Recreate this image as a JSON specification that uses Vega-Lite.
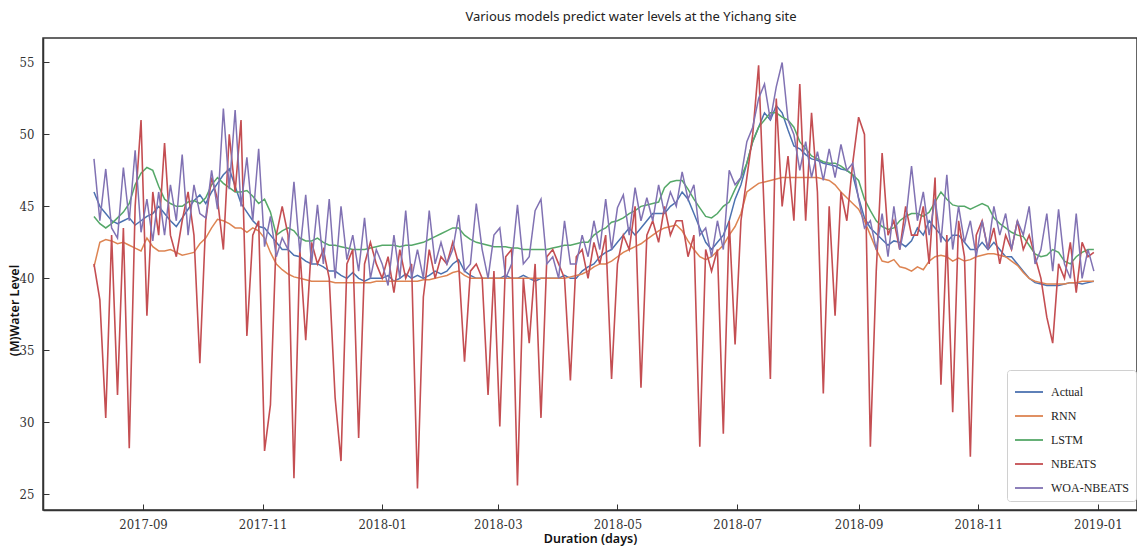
{
"$schema": "https://vega.github.io/schema/vega-lite/v6.json",
"autosize": {"type": "none"},
"width": 1094,
"height": 472,
"padding": {"left": 43, "top": 38, "right": 0, "bottom": 38},
"background": "white",
"title": {"text": "Various models predict water levels at the Yichang site", "font": "Noto Sans", "fontSize": 13, "fontWeight": "normal", "color": "#222", "offset": 14, "dx": 41, "frame": "group", "anchor": "middle"},
"config": {
 "view": {"stroke": "#333", "strokeWidth": 1.5},
 "axis": {"grid": false, "labelFont": "DejaVu Serif Condensed, Liberation Serif, serif", "labelFontSize": 13, "labelColor": "#333", "domainColor": "#333", "domainWidth": 1.5, "tickColor": "#333", "tickSize": -6, "tickWidth": 1, "labelPadding": 15, "titleFont": "Noto Sans", "titleFontSize": 12.5, "titleFontWeight": 600, "titleColor": "#111"},
 "legend": {"orient": "none", "legendX": 964, "legendY": 332, "fillColor": "white", "strokeColor": "#d0d0d0", "cornerRadius": 3, "padding": 7, "symbolType": "stroke", "symbolSize": 784, "symbolStrokeWidth": 1.8, "labelFont": "Liberation Serif, serif", "labelFontSize": 12, "labelColor": "#222", "labelOffset": 7, "rowPadding": 3}
},
"data": {"values": [
{"d":"2017-08-07","A":46,"R":40.8,"L":44.3,"N":41,"W":48.3},
{"d":"2017-08-10","A":45,"R":42.5,"L":43.8,"N":38.5,"W":44},
{"d":"2017-08-13","A":44.5,"R":42.7,"L":43.5,"N":30.3,"W":47.6},
{"d":"2017-08-16","A":44,"R":42.6,"L":43.8,"N":43,"W":43.5},
{"d":"2017-08-19","A":43.8,"R":42.4,"L":44.2,"N":31.9,"W":42.8},
{"d":"2017-08-22","A":44,"R":42.5,"L":44.6,"N":43.5,"W":47.7},
{"d":"2017-08-25","A":44.2,"R":42.3,"L":45.2,"N":28.2,"W":44},
{"d":"2017-08-28","A":43.7,"R":42.1,"L":46.5,"N":45,"W":48.9},
{"d":"2017-08-31","A":44,"R":41.9,"L":47.3,"N":51,"W":43.2},
{"d":"2017-09-03","A":44.3,"R":42.8,"L":47.7,"N":37.4,"W":45.5},
{"d":"2017-09-06","A":44.5,"R":42.2,"L":47.5,"N":46,"W":42.6},
{"d":"2017-09-09","A":45,"R":41.9,"L":46.4,"N":43,"W":46},
{"d":"2017-09-12","A":44.5,"R":41.9,"L":45.5,"N":49.4,"W":43},
{"d":"2017-09-15","A":44,"R":42,"L":45.2,"N":43,"W":46.5},
{"d":"2017-09-18","A":43.6,"R":41.8,"L":45,"N":41.5,"W":44},
{"d":"2017-09-21","A":44.2,"R":41.6,"L":45,"N":44,"W":48.6},
{"d":"2017-09-24","A":44.8,"R":41.7,"L":45.3,"N":46,"W":43},
{"d":"2017-09-27","A":45.4,"R":41.8,"L":45.4,"N":43,"W":46.5},
{"d":"2017-09-30","A":45.8,"R":42.4,"L":45.2,"N":34.1,"W":44.5},
{"d":"2017-10-03","A":45.2,"R":42.8,"L":45.6,"N":44,"W":44.2},
{"d":"2017-10-06","A":46,"R":43.5,"L":46.5,"N":47,"W":47.5},
{"d":"2017-10-09","A":46.6,"R":44.1,"L":47,"N":45.5,"W":44.8},
{"d":"2017-10-12","A":47.2,"R":44,"L":46.6,"N":42,"W":51.8},
{"d":"2017-10-15","A":47.6,"R":43.8,"L":46.3,"N":50,"W":46.2},
{"d":"2017-10-18","A":46.4,"R":43.5,"L":46,"N":46,"W":51.7},
{"d":"2017-10-21","A":45.2,"R":43.5,"L":46,"N":51,"W":45},
{"d":"2017-10-24","A":44.6,"R":43.2,"L":46.1,"N":36,"W":48.4},
{"d":"2017-10-27","A":44,"R":43.5,"L":45.7,"N":43,"W":44},
{"d":"2017-10-30","A":43.6,"R":43.3,"L":45.2,"N":44,"W":49},
{"d":"2017-11-02","A":43.5,"R":42.8,"L":45.5,"N":28,"W":42.2},
{"d":"2017-11-05","A":43,"R":41.8,"L":44.6,"N":31.2,"W":44.3},
{"d":"2017-11-08","A":42.5,"R":41,"L":43,"N":43,"W":41.5},
{"d":"2017-11-11","A":42,"R":40.6,"L":43.3,"N":45,"W":42.8},
{"d":"2017-11-14","A":42,"R":40.3,"L":43.5,"N":43,"W":42},
{"d":"2017-11-17","A":41.6,"R":40.1,"L":43.3,"N":26.1,"W":46.7},
{"d":"2017-11-20","A":41.5,"R":40,"L":42.8,"N":42,"W":41.8},
{"d":"2017-11-23","A":41.2,"R":39.9,"L":42.6,"N":35.7,"W":45.8},
{"d":"2017-11-26","A":41,"R":39.8,"L":42.6,"N":42.5,"W":41},
{"d":"2017-11-29","A":41,"R":39.8,"L":42.8,"N":41,"W":45.1},
{"d":"2017-12-02","A":40.8,"R":39.8,"L":42.5,"N":42,"W":41},
{"d":"2017-12-05","A":40.5,"R":39.8,"L":42.3,"N":40,"W":45.5},
{"d":"2017-12-08","A":40.5,"R":39.7,"L":42.3,"N":31.7,"W":40},
{"d":"2017-12-11","A":40.2,"R":39.7,"L":42.2,"N":27.3,"W":45},
{"d":"2017-12-14","A":40,"R":39.7,"L":42.1,"N":41,"W":41.3},
{"d":"2017-12-17","A":40.4,"R":39.7,"L":42,"N":42,"W":43},
{"d":"2017-12-20","A":40,"R":39.7,"L":42,"N":28.9,"W":40.5},
{"d":"2017-12-23","A":39.8,"R":39.7,"L":42,"N":41,"W":44.2},
{"d":"2017-12-26","A":40,"R":39.7,"L":42.1,"N":42.5,"W":40},
{"d":"2017-12-29","A":40,"R":39.8,"L":42.2,"N":41,"W":42},
{"d":"2018-01-01","A":40,"R":39.8,"L":42.3,"N":40,"W":41},
{"d":"2018-01-04","A":40.2,"R":39.8,"L":42.3,"N":41.5,"W":39.5},
{"d":"2018-01-07","A":39.8,"R":39.8,"L":42.3,"N":39,"W":43},
{"d":"2018-01-10","A":40,"R":39.8,"L":42.2,"N":42,"W":40},
{"d":"2018-01-13","A":40.3,"R":39.8,"L":42.3,"N":40,"W":44.7},
{"d":"2018-01-16","A":40,"R":39.8,"L":42.3,"N":41,"W":40},
{"d":"2018-01-19","A":40.2,"R":39.8,"L":42.4,"N":25.4,"W":42},
{"d":"2018-01-22","A":40,"R":39.9,"L":42.5,"N":38.7,"W":40},
{"d":"2018-01-25","A":40.2,"R":39.9,"L":42.7,"N":42,"W":44.7},
{"d":"2018-01-28","A":40.5,"R":40,"L":42.9,"N":40,"W":41},
{"d":"2018-01-31","A":40.3,"R":40.1,"L":43.1,"N":41.5,"W":42.5},
{"d":"2018-02-03","A":40.5,"R":40.2,"L":43.3,"N":41,"W":41},
{"d":"2018-02-06","A":41,"R":40.4,"L":43.5,"N":42.5,"W":42},
{"d":"2018-02-09","A":41.3,"R":40.5,"L":43.5,"N":41,"W":44.4},
{"d":"2018-02-12","A":40.5,"R":40.2,"L":43,"N":34.2,"W":40.5},
{"d":"2018-02-15","A":40.2,"R":40,"L":42.7,"N":40.5,"W":41},
{"d":"2018-02-18","A":40,"R":40,"L":42.5,"N":41,"W":45.2},
{"d":"2018-02-21","A":40,"R":40,"L":42.4,"N":40,"W":42},
{"d":"2018-02-24","A":40,"R":40,"L":42.3,"N":31.9,"W":40},
{"d":"2018-02-27","A":40,"R":40,"L":42.2,"N":40.5,"W":43},
{"d":"2018-03-02","A":40,"R":40,"L":42.2,"N":29.7,"W":43.5},
{"d":"2018-03-05","A":40.2,"R":40,"L":42.2,"N":41.5,"W":40},
{"d":"2018-03-08","A":40,"R":40,"L":42.1,"N":42,"W":41},
{"d":"2018-03-11","A":40,"R":40,"L":42.1,"N":25.6,"W":45.1},
{"d":"2018-03-14","A":40.2,"R":40,"L":42,"N":40,"W":41},
{"d":"2018-03-17","A":40,"R":40,"L":42,"N":35.5,"W":41.5},
{"d":"2018-03-20","A":39.8,"R":40,"L":42,"N":41,"W":44.7},
{"d":"2018-03-23","A":40,"R":40,"L":42,"N":30.3,"W":45.5},
{"d":"2018-03-26","A":40,"R":40,"L":42,"N":41.5,"W":41},
{"d":"2018-03-29","A":40,"R":40,"L":42.1,"N":42,"W":41.5},
{"d":"2018-04-01","A":40,"R":40,"L":42.2,"N":41,"W":40},
{"d":"2018-04-04","A":40.2,"R":40,"L":42.3,"N":40,"W":44},
{"d":"2018-04-07","A":40,"R":40.1,"L":42.3,"N":32.9,"W":41},
{"d":"2018-04-10","A":40,"R":40.2,"L":42.4,"N":41.5,"W":41},
{"d":"2018-04-13","A":40.5,"R":40.3,"L":42.5,"N":42,"W":43},
{"d":"2018-04-16","A":40.8,"R":40.5,"L":42.5,"N":40,"W":41.5},
{"d":"2018-04-19","A":41,"R":40.8,"L":43,"N":42.5,"W":44},
{"d":"2018-04-22","A":41.5,"R":41,"L":43.3,"N":41,"W":42},
{"d":"2018-04-25","A":41.8,"R":41,"L":43.5,"N":43,"W":45.5},
{"d":"2018-04-28","A":42,"R":41.2,"L":43.9,"N":33,"W":42},
{"d":"2018-05-01","A":42.5,"R":41.5,"L":44,"N":41,"W":44.9},
{"d":"2018-05-04","A":43,"R":41.8,"L":44.2,"N":43,"W":45.8},
{"d":"2018-05-07","A":43.5,"R":42,"L":44.5,"N":42,"W":43},
{"d":"2018-05-10","A":43,"R":42.2,"L":44.7,"N":45,"W":46.3},
{"d":"2018-05-13","A":43.5,"R":42.4,"L":45,"N":32.4,"W":44},
{"d":"2018-05-16","A":44,"R":42.7,"L":45.1,"N":43,"W":45.6},
{"d":"2018-05-19","A":44.5,"R":43,"L":45.2,"N":44,"W":44},
{"d":"2018-05-22","A":44.5,"R":43.3,"L":45.3,"N":42.5,"W":46.5},
{"d":"2018-05-25","A":44.5,"R":43.5,"L":46.3,"N":45,"W":44.5},
{"d":"2018-05-28","A":45,"R":43.6,"L":46.7,"N":43,"W":46},
{"d":"2018-05-31","A":45.3,"R":43.7,"L":46.8,"N":44,"W":45},
{"d":"2018-06-03","A":46,"R":43.3,"L":46.8,"N":44,"W":47.4},
{"d":"2018-06-06","A":45.5,"R":42.6,"L":46.2,"N":41.5,"W":45.5},
{"d":"2018-06-09","A":44.5,"R":42,"L":45.5,"N":43,"W":46.5},
{"d":"2018-06-12","A":43.5,"R":41.5,"L":44.9,"N":28.3,"W":43},
{"d":"2018-06-15","A":42.5,"R":41.3,"L":44.3,"N":42,"W":43.5},
{"d":"2018-06-18","A":42,"R":41.5,"L":44.2,"N":40.5,"W":41.5},
{"d":"2018-06-21","A":42.5,"R":41.9,"L":44.5,"N":42,"W":44},
{"d":"2018-06-24","A":43,"R":42.3,"L":45,"N":29.2,"W":42},
{"d":"2018-06-27","A":44,"R":43,"L":45.3,"N":44,"W":47.5},
{"d":"2018-06-30","A":45.5,"R":43.6,"L":46.2,"N":35.4,"W":46.5},
{"d":"2018-07-03","A":46.5,"R":44.5,"L":47,"N":44,"W":47},
{"d":"2018-07-06","A":48,"R":46,"L":48,"N":47,"W":49.5},
{"d":"2018-07-09","A":49.5,"R":46.3,"L":49.5,"N":50,"W":50.5},
{"d":"2018-07-12","A":50.5,"R":46.6,"L":50.5,"N":54.8,"W":52.5},
{"d":"2018-07-15","A":51.5,"R":46.7,"L":51,"N":44,"W":53.5},
{"d":"2018-07-18","A":51,"R":46.8,"L":51.5,"N":33,"W":51},
{"d":"2018-07-21","A":52,"R":46.9,"L":51.5,"N":52.5,"W":53.3},
{"d":"2018-07-24","A":51.5,"R":47,"L":51.2,"N":45,"W":55},
{"d":"2018-07-27","A":50.3,"R":47,"L":51,"N":48.5,"W":51},
{"d":"2018-07-30","A":49.2,"R":47,"L":50.5,"N":44,"W":50},
{"d":"2018-08-02","A":49,"R":47,"L":49.5,"N":53.5,"W":47.5},
{"d":"2018-08-05","A":48.6,"R":47,"L":49,"N":44,"W":49.5},
{"d":"2018-08-08","A":48.3,"R":47,"L":48.5,"N":51.5,"W":47},
{"d":"2018-08-11","A":48.2,"R":47,"L":48.3,"N":46,"W":48.8},
{"d":"2018-08-14","A":48,"R":46.9,"L":48.1,"N":32,"W":46.8},
{"d":"2018-08-17","A":47.9,"R":46.8,"L":48,"N":45,"W":49},
{"d":"2018-08-20","A":47.8,"R":46.5,"L":48,"N":37.4,"W":47},
{"d":"2018-08-23","A":47.6,"R":46,"L":47.8,"N":46,"W":49.3},
{"d":"2018-08-26","A":47.5,"R":45.6,"L":47.5,"N":44,"W":47.5},
{"d":"2018-08-29","A":47.2,"R":45.2,"L":47.2,"N":48,"W":48},
{"d":"2018-09-01","A":45.6,"R":44.8,"L":46.8,"N":51.2,"W":45.5},
{"d":"2018-09-04","A":44.2,"R":44,"L":45.5,"N":50,"W":43.5},
{"d":"2018-09-07","A":43.5,"R":43,"L":44.7,"N":28.3,"W":44},
{"d":"2018-09-10","A":43.1,"R":42,"L":44,"N":40.5,"W":42},
{"d":"2018-09-13","A":42.7,"R":41.2,"L":43.6,"N":48.7,"W":44.5},
{"d":"2018-09-16","A":42.3,"R":41.1,"L":43.4,"N":43,"W":41.5},
{"d":"2018-09-19","A":42.6,"R":41.3,"L":43.5,"N":44,"W":45},
{"d":"2018-09-22","A":42.5,"R":40.8,"L":44,"N":42,"W":42},
{"d":"2018-09-25","A":42.2,"R":40.7,"L":44.3,"N":45,"W":44},
{"d":"2018-09-28","A":42.6,"R":40.5,"L":44.5,"N":43,"W":47.8},
{"d":"2018-10-01","A":43.5,"R":40.8,"L":44.5,"N":43,"W":44},
{"d":"2018-10-04","A":43,"R":40.6,"L":44.3,"N":45,"W":46},
{"d":"2018-10-07","A":44,"R":41.2,"L":44.6,"N":41,"W":43},
{"d":"2018-10-10","A":43.5,"R":41.5,"L":45.3,"N":47,"W":45.5},
{"d":"2018-10-13","A":43,"R":41.6,"L":46,"N":32.6,"W":42.5},
{"d":"2018-10-16","A":42.5,"R":41.5,"L":45.5,"N":43,"W":47.2},
{"d":"2018-10-19","A":43,"R":41.2,"L":45.1,"N":30.7,"W":42},
{"d":"2018-10-22","A":43,"R":41.4,"L":45,"N":44,"W":45},
{"d":"2018-10-25","A":42.5,"R":41.2,"L":45,"N":41.5,"W":42.5},
{"d":"2018-10-28","A":42,"R":41.3,"L":44.8,"N":27.6,"W":44},
{"d":"2018-10-31","A":42,"R":41.5,"L":45,"N":43,"W":41.5},
{"d":"2018-11-03","A":42.5,"R":41.6,"L":45.2,"N":44,"W":44},
{"d":"2018-11-06","A":42,"R":41.7,"L":45,"N":42,"W":42},
{"d":"2018-11-09","A":42.5,"R":41.7,"L":44.2,"N":43.5,"W":45},
{"d":"2018-11-12","A":42,"R":41.6,"L":43.8,"N":41,"W":43},
{"d":"2018-11-15","A":41.5,"R":41.5,"L":43.5,"N":43,"W":44.5},
{"d":"2018-11-18","A":41.5,"R":41.2,"L":43.2,"N":42,"W":42},
{"d":"2018-11-21","A":41,"R":40.9,"L":43,"N":44,"W":44},
{"d":"2018-11-24","A":40.5,"R":40.4,"L":42.9,"N":42,"W":43},
{"d":"2018-11-27","A":40,"R":40,"L":42.3,"N":43,"W":45},
{"d":"2018-11-30","A":39.7,"R":39.8,"L":41.7,"N":41.5,"W":41},
{"d":"2018-12-03","A":39.6,"R":39.7,"L":41.5,"N":40,"W":42},
{"d":"2018-12-06","A":39.5,"R":39.6,"L":41.6,"N":37.3,"W":44.5},
{"d":"2018-12-09","A":39.5,"R":39.6,"L":42,"N":35.5,"W":40.5},
{"d":"2018-12-12","A":39.5,"R":39.6,"L":41.8,"N":41,"W":44.8},
{"d":"2018-12-15","A":39.6,"R":39.6,"L":41.2,"N":40,"W":41},
{"d":"2018-12-18","A":39.7,"R":39.7,"L":41,"N":42.5,"W":40},
{"d":"2018-12-21","A":39.7,"R":39.7,"L":41.5,"N":39,"W":44.5},
{"d":"2018-12-24","A":39.6,"R":39.8,"L":41.8,"N":42.5,"W":40},
{"d":"2018-12-27","A":39.7,"R":39.8,"L":42,"N":41.5,"W":42},
{"d":"2018-12-30","A":39.8,"R":39.8,"L":42,"N":41.8,"W":40.5}
]},
"encoding": {
 "x": {"field": "d", "type": "temporal", "scale": {"domain": [{"year": 2017, "month": 7, "date": 12}, {"year": 2019, "month": 1, "date": 21}]}, "axis": {"title": "Duration (days)", "format": "%Y-%m", "tickCount": {"interval": "month", "step": 2}, "labelPadding": 14, "titlePadding": 1}}
},
"layer": [
 {"mark": {"type": "line", "strokeWidth": 1.5}, "encoding": {
   "y": {"field": "A", "type": "quantitative", "title": "(M)Water Level", "scale": {"domain": [23.9, 56.7], "nice": false, "zero": false}, "axis": {"values": [25, 30, 35, 40, 45, 50, 55], "titleY": 272, "titleX": -22}},
   "color": {"datum": "Actual", "type": "nominal", "scale": {"domain": ["Actual", "RNN", "LSTM", "NBEATS", "WOA-NBEATS"], "range": ["#4c72b0", "#dd8452", "#55a868", "#c44e52", "#8172b3"]}, "legend": {"title": null}}}},
 {"mark": {"type": "line", "strokeWidth": 1.5}, "encoding": {
   "y": {"field": "R", "type": "quantitative", "title": "(M)Water Level"},
   "color": {"datum": "RNN", "type": "nominal"}}},
 {"mark": {"type": "line", "strokeWidth": 1.5}, "encoding": {
   "y": {"field": "L", "type": "quantitative", "title": "(M)Water Level"},
   "color": {"datum": "LSTM", "type": "nominal"}}},
 {"mark": {"type": "line", "strokeWidth": 1.6}, "encoding": {
   "y": {"field": "N", "type": "quantitative", "title": "(M)Water Level"},
   "color": {"datum": "NBEATS", "type": "nominal"}}},
 {"mark": {"type": "line", "strokeWidth": 1.5}, "encoding": {
   "y": {"field": "W", "type": "quantitative", "title": "(M)Water Level"},
   "color": {"datum": "WOA-NBEATS", "type": "nominal"}}}
]
}
